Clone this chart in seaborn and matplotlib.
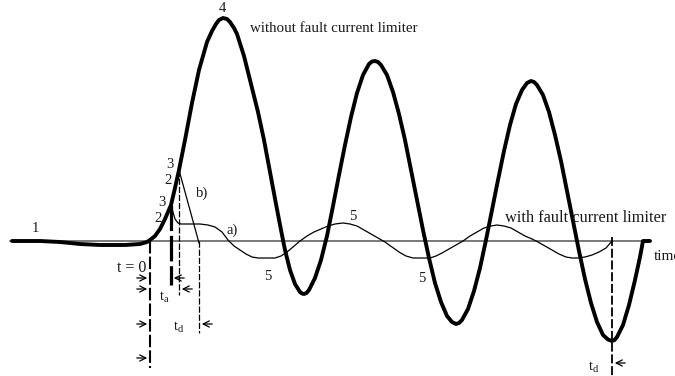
import matplotlib
matplotlib.use("Agg")
import matplotlib.pyplot as plt
import seaborn as sns

# %% data - current vs time (time and current in arbitrary units)
t_without = [-13.8, -11.0, -9.0, -7.0, -5.0, -2.5, -1.0, -0.3, 0.0, 0.5, 1.0, 1.5, 2.1, 2.5, 2.9,
             3.5, 4.2, 4.9, 5.7, 6.2, 6.6, 6.9, 7.3, 7.7, 8.0, 8.4, 8.7, 9.4, 10.1, 10.8, 11.4,
             12.0, 12.6, 13.1, 13.5, 14.0, 14.5, 15.0, 15.2, 15.4, 15.65, 15.9, 16.5, 17.1, 17.7,
             18.3, 18.9, 19.5, 20.1, 20.7, 21.3, 21.9, 22.2, 22.5, 22.8, 23.1, 23.7, 24.3, 24.9,
             25.5, 26.1, 26.7, 27.3, 27.9, 28.5, 29.1, 29.7, 30.2, 30.6, 30.9, 31.2, 31.8, 32.4,
             33.0, 33.6, 34.2, 34.8, 35.4, 36.0, 36.6, 37.2, 37.7, 38.1, 38.4, 38.7, 39.3, 39.9,
             40.5, 41.1, 41.7, 42.3, 42.9, 43.5, 44.1, 44.7, 45.3, 45.8, 46.2, 46.45, 46.7, 47.3,
             47.9, 48.5, 49.0, 49.3, 50.0]
i_without = [0.0, 0.0, -0.1, -0.3, -0.4, -0.4, -0.3, -0.1, 0.1, 0.5, 1.2, 2.2, 3.6, 5.3, 7.1,
             10.1, 13.8, 17.1, 19.9, 21.0, 21.7, 22.1, 22.3, 22.2, 21.9, 21.3, 20.7, 18.5, 15.7,
             12.9, 10.1, 6.9, 3.7, 1.1, -0.9, -2.9, -4.3, -5.1, -5.25, -5.3, -5.2, -4.9, -3.7,
             -1.9, 0.5, 3.5, 6.6, 9.6, 12.4, 14.8, 16.6, 17.7, 17.95, 18.0, 17.9, 17.6, 16.6,
             14.9, 12.7, 10.1, 7.1, 4.1, 1.1, -1.7, -4.2, -6.1, -7.5, -8.1, -8.3, -8.2, -7.9,
             -6.8, -5.0, -2.7, 0.1, 3.1, 6.1, 9.0, 11.6, 13.7, 15.1, 15.8, 16.0, 15.9, 15.6,
             14.6, 12.9, 10.6, 8.0, 5.0, 2.0, -1.0, -3.8, -6.2, -8.1, -9.4, -9.85, -10.0, -9.9,
             -9.6, -8.4, -6.4, -3.9, -1.6, 0.0, 0.0]

t_with = [0.0, 0.5, 1.0, 1.5, 2.1, 2.3, 2.5, 2.8, 3.1, 5.0, 5.8, 6.5, 7.2, 7.8, 8.4, 9.0, 9.6,
          10.2, 10.8, 12.5, 13.1, 13.7, 14.3, 15.0, 15.7, 16.4, 17.1, 17.8, 18.5, 19.3, 20.0,
          20.7, 21.4, 22.1, 22.8, 23.5, 24.2, 24.9, 25.6, 26.3, 28.0, 28.6, 29.2, 29.9, 30.6,
          31.3, 32.0, 32.7, 33.4, 34.1, 34.7, 35.4, 36.1, 36.8, 37.5, 38.2, 38.8, 39.5, 40.2,
          40.9, 41.6, 42.2, 42.8, 43.5, 44.2, 44.9, 45.6, 46.2]
i_with = [0.1, 0.5, 1.2, 2.2, 3.6, 2.9, 2.2, 1.8, 1.7, 1.7, 1.6, 1.4, 0.9, 0.1, -0.5, -0.9, -1.3,
          -1.6, -1.7, -1.7, -1.5, -1.1, -0.6, 0.0, 0.5, 0.9, 1.2, 1.5, 1.7, 1.8, 1.7,
          1.5, 1.1, 0.7, 0.3, -0.1, -0.6, -1.1, -1.5, -1.7, -1.7, -1.5, -1.2, -0.8, -0.4,
          0.0, 0.5, 0.9, 1.3, 1.5, 1.6, 1.5, 1.3, 0.9, 0.5, 0.2, -0.1, -0.5, -0.9,
          -1.3, -1.6, -1.7, -1.7, -1.6, -1.4, -1.1, -0.7, 0.0]

# limiter b): linear fall from point 3 down to zero
t_b = [2.9, 4.9]
i_b = [7.1, -0.2]

t_axis = [-14.0, 50.0]
t_a1, t_a2, t_d, t_end = 2.1, 2.9, 4.9, 46.2

# %% plot
sns.set_style("white")
plt.rcParams["font.family"] = ["Liberation Serif", "DejaVu Serif"]
plt.rcParams["mathtext.fontset"] = "custom"
plt.rcParams["mathtext.rm"] = "Liberation Serif"
plt.rcParams["mathtext.it"] = "Liberation Serif"

fig = plt.figure(figsize=(6.75, 3.76), dpi=100)
ax = fig.add_axes([0, 0, 1, 1])
ax.set_xlim(-15, 52.5)
ax.set_ylim(-13.5, 24.1)
ax.axis("off")

ax.plot(t_axis, [0, 0], color="#6e6e6e", lw=1.3, zorder=1)
sns.lineplot(x=t_with, y=i_with, ax=ax, color="black", lw=0.9, sort=False, estimator=None)
sns.lineplot(x=t_b, y=i_b, ax=ax, color="black", lw=0.9, sort=False, estimator=None)
sns.lineplot(x=t_without, y=i_without, ax=ax, color="black", lw=2.8, sort=False, estimator=None)

# marker lines for t = 0, t_a, t_d
ax.plot([0, 0], [0, -12.7], color="black", lw=1.5, ls=(0, (6, 1.5)))
ax.plot([t_a1, t_a1], [3.6, -4.4], color="black", lw=2.3, ls=(0, (8, 1.5)))
ax.plot([t_a2, t_a2], [7.1, -5.4], color="black", lw=0.9, ls=(0, (5, 1.5)))
ax.plot([t_d, t_d], [0, -9.2], color="black", lw=0.9, ls=(0, (5, 1.5)))
ax.plot([t_end, t_end], [0.4, -13.5], color="black", lw=1.3, ls=(0, (5, 1.5)))

arrow = dict(arrowstyle="->", lw=0.9, color="black", mutation_scale=11)
for y in [-3.7, -4.8, -8.3, -11.7]:
    ax.annotate("", xy=(0, y), xytext=(-1.6, y), arrowprops=arrow)
for x, y in [(t_a1, -3.7), (t_a2, -4.8), (t_d, -8.3), (t_end, -12.2)]:
    ax.annotate("", xy=(x, y), xytext=(x + 1.6, y), arrowprops=arrow)

txt = dict(color="#1a1a1a", fontsize=10.5, ha="center", va="center")
ax.text(-11.5, 1.3, "1", **txt)
ax.text(7.2, 23.3, "4", **txt)
ax.text(2.0, 7.6, "3", **txt)
ax.text(1.8, 6.0, "2", **txt)
ax.text(1.2, 3.9, "3", **txt)
ax.text(0.8, 2.3, "2", **txt)
ax.text(5.2, 4.8, "b)", **txt)
ax.text(8.2, 1.1, "a)", **txt)
ax.text(11.8, -3.6, "5", **txt)
ax.text(20.3, 2.5, "5", **txt)
ax.text(27.2, -3.7, "5", **txt)
ax.text(-0.4, -2.7, "t = 0", **{**txt, "ha": "right", "fontsize": 11.5})
ax.text(1.4, -5.6, r"$\mathrm{t_a}$", **txt)
ax.text(2.9, -8.6, r"$\mathrm{t_d}$", **txt)
ax.text(44.4, -12.6, r"$\mathrm{t_d}$", **txt)
ax.text(10.0, 21.3, "without fault current limiter", **{**txt, "ha": "left", "fontsize": 10.8})
ax.text(35.5, 2.3, "with fault current limiter", **{**txt, "ha": "left", "fontsize": 11.8})
ax.text(50.4, -1.5, "time", **{**txt, "ha": "left", "fontsize": 11})

fig.savefig("out.png", dpi=100)
